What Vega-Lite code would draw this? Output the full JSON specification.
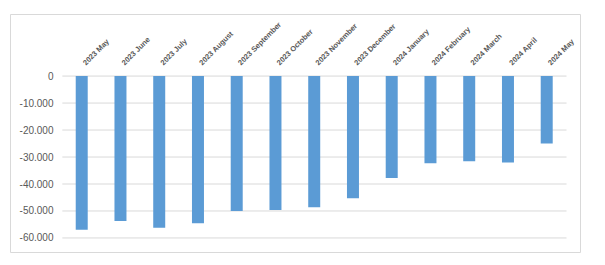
{
  "$schema": "https://vega.github.io/schema/vega-lite/v6.json",
  "autosize": {"type": "none"},
  "padding": {"left": 10, "top": 14, "right": 25, "bottom": 13},
  "width": 570,
  "height": 238,
  "background": "#ffffff",
  "config": {
    "view": {"stroke": "#d9d9d9", "strokeWidth": 1},
    "locale": {"number": {"decimal": ",", "thousands": ".", "grouping": [3], "currency": ["", " €"], "minus": "-"}},
    "axis": {"labelFont": "Liberation Sans", "labelColor": "#595959"}
  },
  "datasets": {
    "bars": [
      {"month": "2023 May", "value": -57000},
      {"month": "2023 June", "value": -53700},
      {"month": "2023 July", "value": -56200},
      {"month": "2023 August", "value": -54500},
      {"month": "2023 September", "value": -50000},
      {"month": "2023 October", "value": -49600},
      {"month": "2023 November", "value": -48600},
      {"month": "2023 December", "value": -45300},
      {"month": "2024 January", "value": -37800},
      {"month": "2024 February", "value": -32300},
      {"month": "2024 March", "value": -31600},
      {"month": "2024 April", "value": -32000},
      {"month": "2024 May", "value": -25000}
    ],
    "grid": [
      {"v": 0}, {"v": -10000}, {"v": -20000}, {"v": -30000}, {"v": -40000}, {"v": -50000}, {"v": -60000}
    ]
  },
  "encoding": {
    "x": {
      "type": "nominal",
      "scale": {
        "domain": ["2023 May", "2023 June", "2023 July", "2023 August", "2023 September", "2023 October", "2023 November", "2023 December", "2024 January", "2024 February", "2024 March", "2024 April", "2024 May"],
        "paddingInner": 0.29, "paddingOuter": 1, "align": 0.748
      },
      "axis": {
        "orient": "top", "title": null, "domain": false, "ticks": false, "grid": false,
        "labelAngle": -45, "labelAlign": "left", "labelBaseline": "top",
        "labelPadding": -47, "labelFontSize": 7.5, "labelFontWeight": "bold",
        "labelOverlap": false, "labelBound": false, "labelFlush": false
      }
    },
    "y": {
      "type": "quantitative",
      "scale": {"domain": [-65200, 23000], "nice": false, "zero": false},
      "axis": {
        "title": null, "domain": false, "ticks": false, "grid": false,
        "values": [0, -10000, -20000, -30000, -40000, -50000, -60000],
        "format": ",d", "labelPadding": -43, "labelFontSize": 10
      }
    }
  },
  "layer": [
    {
      "data": {"name": "grid"},
      "mark": {"type": "rule", "color": "#d9d9d9", "strokeWidth": 1},
      "encoding": {
        "y": {"field": "v", "type": "quantitative"},
        "x": {"datum": "2023 May", "type": "nominal", "bandPosition": -0.205},
        "x2": {"datum": "2024 May", "bandPosition": 1.22}
      }
    },
    {
      "data": {"name": "bars"},
      "mark": {"type": "bar", "color": "#5b9bd5", "width": {"band": 0.436}},
      "encoding": {
        "x": {"field": "month", "type": "nominal"},
        "y": {"field": "value", "type": "quantitative"}
      }
    }
  ]
}
